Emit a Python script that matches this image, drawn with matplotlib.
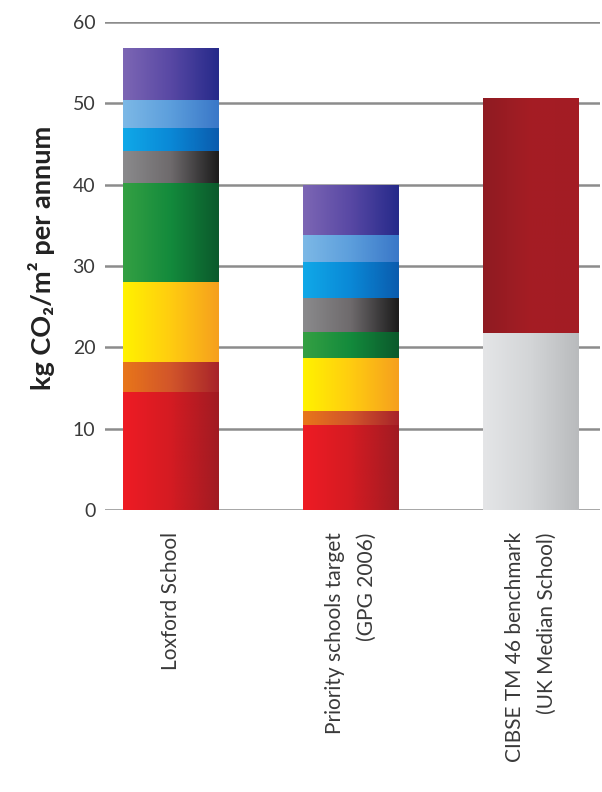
import matplotlib
matplotlib.use("Agg")
import matplotlib.pyplot as plt
import numpy as np
from matplotlib.colors import LinearSegmentedColormap

# ---- data ----
categories = ["Loxford School", "Priority schools target\n(GPG 2006)", "CIBSE TM 46 benchmark\n(UK Median School)"]
segment_names = ["red", "orange", "yellow", "green", "grey", "blue", "lightblue", "purple"]
loxford = [14.5, 3.7, 9.8, 12.2, 4.0, 2.8, 3.4, 6.4]
priority = [10.5, 1.7, 6.5, 3.2, 4.2, 4.4, 3.3, 6.2]
cibse_names = ["grey", "red"]
cibse = [21.8, 28.9]
yticks = [0, 10, 20, 30, 40, 50, 60]

# gradient colours (left -> right)
grad = {
    "red": ["#ee1c24", "#d41b22", "#a11b22"],
    "orange": ["#e8761a", "#d2552a", "#a8242a"],
    "yellow": ["#fff200", "#ffcc10", "#f6a01e"],
    "green": ["#34a043", "#138a3c", "#0b5a2c"],
    "grey": ["#8a8a8c", "#6e6a6c", "#1c1c1c"],
    "blue": ["#10a8e8", "#0a88d6", "#0a5cae"],
    "lightblue": ["#7cb8e6", "#5c9edc", "#3a78c8"],
    "purple": ["#7c66b4", "#5848a4", "#262a8a"],
}
grad_cibse = {
    "grey": ["#e4e5e7", "#d3d5d7", "#b9bbbd"],
    "red": ["#8f1b22", "#a51d24", "#a31c24"],
}

plt.rcParams["font.family"] = ["Lato", "DejaVu Sans"]
txtcol = "#3a3a3a"

fig = plt.figure(figsize=(6.02, 7.92), dpi=100)
ax = fig.add_axes([105 / 602, 1 - 510 / 792, 495 / 602, 488 / 792])

width = 0.533
x = np.arange(len(categories))


def draw_stack(xpos, values, names, gmap):
    bottom = 0.0
    for v, n in zip(values, names):
        cols = gmap[n]
        bars = ax.bar(xpos, v, width, bottom=bottom, color=cols[1], edgecolor="none", zorder=2)
        rect = bars[0]
        cmap = LinearSegmentedColormap.from_list(n, cols)
        g = np.linspace(0, 1, 64).reshape(1, -1)
        im = ax.imshow(g, cmap=cmap, aspect="auto", interpolation="bilinear",
                       extent=(rect.get_x(), rect.get_x() + rect.get_width(), bottom, bottom + v),
                       zorder=3)
        im.set_clip_path(rect)
        bottom += v


draw_stack(x[0], loxford, segment_names, grad)
draw_stack(x[1], priority, segment_names, grad)
draw_stack(x[2], cibse, cibse_names, grad_cibse)

ax.set_xlim(-0.364, 2.386)
ax.set_ylim(0, 60)
ax.set_yticks(yticks)
ax.set_yticklabels([str(t) for t in yticks], fontsize=14, color=txtcol)
ax.tick_params(axis="y", length=0, pad=7)
ax.yaxis.grid(True, color="#8c8c8c", linewidth=1.8, zorder=1)
ax.set_axisbelow(True)
for s in ax.spines.values():
    s.set_visible(False)

ax.set_xticks(x)
ax.set_xticklabels(categories, rotation=90, fontsize=15, color=txtcol,
                   ha="center", va="top", multialignment="right", linespacing=1.75)
ax.tick_params(axis="x", length=0, pad=16)

fig.text(42 / 602, 1 - 258 / 792, "kg CO\u2082/m\u00b2 per annum", rotation=90,
         fontsize=19.5, fontweight="bold", color="#222222", ha="center", va="center",
         family=["Lato", "DejaVu Sans"])

fig.savefig("out.png", dpi=100, facecolor="white")
